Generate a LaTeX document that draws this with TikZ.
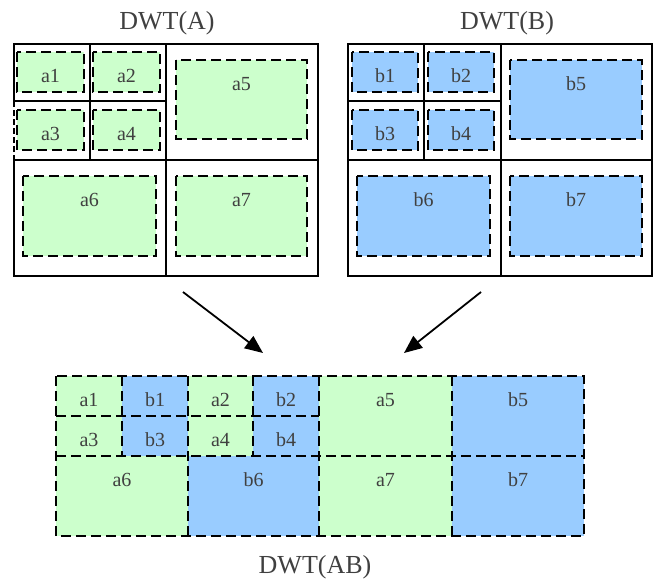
\documentclass[tikz,border=0pt]{standalone}
\usepackage{fontspec}
\setmainfont{Liberation Serif}
\usetikzlibrary{arrows.meta}
\definecolor{cellA}{HTML}{CCFFCC}
\definecolor{cellB}{HTML}{99CCFF}
\definecolor{ink}{HTML}{404040}
\tikzset{
  frame/.style={line width=1.8pt, draw=black},
  dashedge/.style={line width=2.4pt, draw=black, dash pattern=on 10pt off 5pt},
  cellfill/.style={inner sep=0pt, outer sep=0pt, anchor=north west, draw=none},
  celltext/.style={anchor=base, text=ink, font=\fontsize{20}{24}\selectfont, inner sep=0pt},
  title/.style={anchor=base, text=ink, font=\fontsize{26}{30}\selectfont, inner sep=0pt},
  flow/.style={line width=1.8pt, -{Triangle[length=18pt,width=15pt]}},
}
% filled cell with its caption 30pt below the top edge
\newcommand\wcell[7]{%
  \node[cellfill, fill=#7, minimum width={(#5-#3)*1pt}, minimum height={(#6-#4)*1pt}] (#1) at (#3,#4) {};
  \node[celltext] (#1-t) at ([yshift=-30pt]#1.north) {#2};
}
\begin{document}
\begin{tikzpicture}[x=1pt, y=-1pt]
\useasboundingbox (0,0) rectangle (655,581);

% titles
\node[title] (tA) at (167,29) {DWT(A)};
\node[title] (tB) at (507,29) {DWT(B)};
\node[title] (tAB) at (315,573) {DWT(AB)};

% frame of DWT(A)
\draw[frame] (14,101) -- (14,44) -- (318,44) -- (318,276) -- (14,276) -- (14,160);
\draw[frame, dash pattern=on 6pt off 3pt] (14,101) -- (14,160);
\draw[frame] (166,44) -- (166,276);
\draw[frame] (14,160) -- (318,160);
\draw[frame] (14,101) -- (166,101);
\draw[frame] (90,44) -- (90,160);

% frame of DWT(B)
\draw[frame] (348,44) rectangle (652,276);
\draw[frame] (501,44) -- (501,276);
\draw[frame] (348,160) -- (652,160);
\draw[frame] (348,101) -- (501,101);
\draw[frame] (424,44) -- (424,160);

% subbands of A and B
\foreach \n/\t/\xa/\ya/\xb/\yb/\c in {
  ta1/a1/17/52/84/92/cellA, ta2/a2/93/52/160/92/cellA,
  ta3/a3/17/110/84/150/cellA, ta4/a4/93/110/160/150/cellA,
  ta5/a5/176/60/307/139/cellA, ta6/a6/23/176/156/256/cellA,
  ta7/a7/176/176/307/256/cellA,
  tb1/b1/352/52/418/92/cellB, tb2/b2/428/52/494/92/cellB,
  tb3/b3/352/110/418/150/cellB, tb4/b4/428/110/494/150/cellB,
  tb5/b5/510/60/642/139/cellB, tb6/b6/357/176/490/256/cellB,
  tb7/b7/510/176/642/256/cellB}
  {\wcell{\n}{\t}{\xa}{\ya}{\xb}{\yb}{\c}}
\foreach \n in {ta1,ta2,ta3,ta4,ta5,ta6,ta7,tb1,tb2,tb3,tb4,tb5,tb6,tb7}
  {\draw[dashedge] (\n.north west) rectangle (\n.south east);}

% interleaved subbands of AB
\foreach \n/\t/\xa/\ya/\xb/\yb/\c in {
  ma1/a1/56/376/122/416/cellA, mb1/b1/122/376/188/416/cellB,
  ma2/a2/188/376/253/416/cellA, mb2/b2/253/376/319/416/cellB,
  ma3/a3/56/416/122/456/cellA, mb3/b3/122/416/188/456/cellB,
  ma4/a4/188/416/253/456/cellA, mb4/b4/253/416/319/456/cellB,
  ma5/a5/319/376/452/456/cellA, mb5/b5/452/376/584/456/cellB,
  ma6/a6/56/456/188/536/cellA, mb6/b6/188/456/319/536/cellB,
  ma7/a7/319/456/452/536/cellA, mb7/b7/452/456/584/536/cellB}
  {\wcell{\n}{\t}{\xa}{\ya}{\xb}{\yb}{\c}}
% dashed grid of AB, each shared edge drawn once
\draw[dashedge] (ma1.north west) rectangle (mb7.south east);
\draw[dashedge] (ma3.north west) -- (mb4.north east);
\draw[dashedge] (ma6.north west) -- (mb7.north east);
\draw[dashedge] (mb1.north west) -- (mb3.south west);
\draw[dashedge] (ma2.north west) -- (mb6.south west);
\draw[dashedge] (mb2.north west) -- (mb4.south west);
\draw[dashedge] (ma5.north west) -- (ma7.south west);
\draw[dashedge] (mb5.north west) -- (mb7.south west);

% merging arrows
\coordinate (sA) at (183,292);
\coordinate (eA) at (263,353);
\coordinate (sB) at (481,292);
\coordinate (eB) at (404,353);
\draw[flow] (sA) -- (eA);
\draw[flow] (sB) -- (eB);
\end{tikzpicture}
\end{document}
